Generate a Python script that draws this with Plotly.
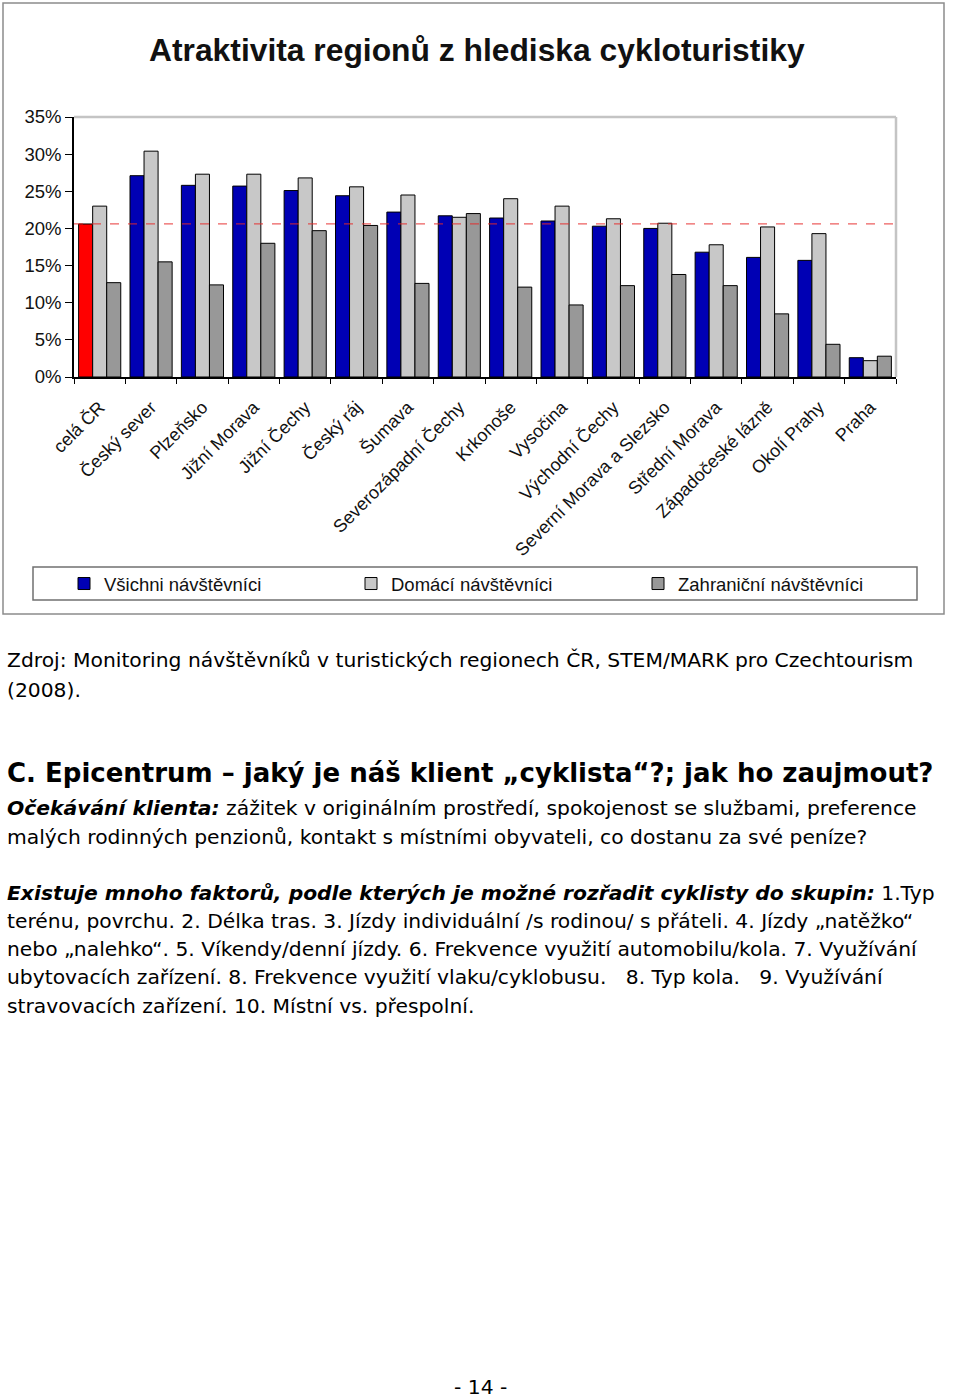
import plotly.graph_objects as go

W, H = 960, 1400

categories = ["celá ČR", "Český sever", "Plzeňsko", "Jižní Morava", "Jižní Čechy",
              "Český ráj", "Šumava", "Severozápadní Čechy", "Krkonoše", "Vysočina",
              "Východní Čechy", "Severní Morava a Slezsko", "Střední Morava",
              "Západočeské lázně", "Okolí Prahy", "Praha"]
vsichni = [20.6, 27.1, 25.8, 25.7, 25.1, 24.4, 22.2, 21.7, 21.4, 21.0, 20.3, 20.0, 16.8, 16.1, 15.7, 2.6]
domaci = [23.0, 30.4, 27.3, 27.3, 26.8, 25.6, 24.5, 21.5, 24.0, 23.0, 21.3, 20.7, 17.8, 20.2, 19.3, 2.2]
zahranicni = [12.7, 15.5, 12.4, 18.0, 19.7, 20.4, 12.6, 22.0, 12.1, 9.7, 12.3, 13.8, 12.3, 8.5, 4.4, 2.8]
y_ticks = [0, 5, 10, 15, 20, 25, 30, 35]
y_tick_labels = ["0%", "5%", "10%", "15%", "20%", "25%", "30%", "35%"]
series_names = ["Všichni návštěvníci", "Domácí návštěvníci", "Zahraniční návštěvníci"]

title = "Atraktivita regionů z hlediska cykloturistiky"

BLUE = "#0000B4"
LIGHT = "#C8C8C8"
DARK = "#989898"
RED = "#FF0000"


def px(x):
    return x / W


def py(y):
    return 1 - y / H


ARIAL = "Liberation Sans, Arial, sans-serif"
BODY = "DejaVu Sans, sans-serif"

fig = go.Figure()
blue_vals = [None] + vsichni[1:]
red_vals = [vsichni[0]] + [None] * (len(vsichni) - 1)
line = dict(color="#000000", width=1)
fig.add_trace(go.Bar(x=categories, y=blue_vals, name=series_names[0], offsetgroup="a",
                     marker=dict(color=BLUE, line=line)))
fig.add_trace(go.Bar(x=categories, y=red_vals, name="celá ČR", offsetgroup="a", showlegend=False,
                     marker=dict(color=RED, line=line)))
fig.add_trace(go.Bar(x=categories, y=domaci, name=series_names[1], offsetgroup="b",
                     marker=dict(color=LIGHT, line=line)))
fig.add_trace(go.Bar(x=categories, y=zahranicni, name=series_names[2], offsetgroup="c",
                     marker=dict(color=DARK, line=line)))

x0, x1 = px(74), px(896)
y0, y1 = py(377), py(117)

fig.update_layout(
    width=W, height=H,
    margin=dict(l=0, r=0, t=0, b=0, autoexpand=False),
    paper_bgcolor="white", plot_bgcolor="white",
    barmode="group", bargap=0.18, bargroupgap=0,
    showlegend=True,
    legend=dict(orientation="h", x=px(64), y=py(584), xanchor="left", yanchor="middle",
                entrywidth=242, entrywidthmode="pixels",
                font=dict(family=ARIAL, size=18.5, color="#111111"),
                bgcolor="rgba(0,0,0,0)", itemclick=False, traceorder="normal"),
    xaxis=dict(domain=[x0, x1], type="category", tickangle=-45, automargin=False,
               showline=True, linecolor="#000000", linewidth=1.5,
               ticks="outside", tickson="boundaries", ticklen=5, tickcolor="#000000",
               ticklabelstandoff=11,
               tickfont=dict(family=ARIAL, size=18, color="#111111"),
               showgrid=False, fixedrange=True),
    yaxis=dict(domain=[y0, y1], range=[0, 35], tickmode="array", tickvals=y_ticks,
               ticktext=y_tick_labels, automargin=False,
               showline=True, linecolor="#000000", linewidth=1.5,
               ticks="outside", ticklen=7, tickcolor="#000000",
               tickfont=dict(family=ARIAL, size=18.5, color="#111111"),
               showgrid=False, zeroline=False, fixedrange=True),
)

shapes = [
    # outer chart frame
    dict(type="rect", xref="paper", yref="paper", x0=px(3), x1=px(944), y0=py(614), y1=py(3),
         line=dict(color="#8C8C8C", width=1.5)),
    # plot frame top & right
    dict(type="line", xref="paper", yref="paper", x0=x0, x1=x1, y0=y1, y1=y1,
         line=dict(color="#C4C4C4", width=2.5)),
    dict(type="line", xref="paper", yref="paper", x0=x1, x1=x1, y0=y0, y1=y1,
         line=dict(color="#C4C4C4", width=2.5)),
    # reference line at national average
    dict(type="line", xref="paper", yref="y", x0=x0, x1=x1, y0=vsichni[0], y1=vsichni[0],
         line=dict(color="rgba(230,40,40,0.75)", width=1.2, dash="dash"), layer="above"),
    # legend box
    dict(type="rect", xref="paper", yref="paper", x0=px(33), x1=px(917), y0=py(600), y1=py(567),
         line=dict(color="#707070", width=1.5)),
]
fig.update_layout(shapes=shapes)

anns = []
anns.append(dict(text="<b>" + title + "</b>", x=px(477), y=py(50), xref="paper", yref="paper",
                 showarrow=False, xanchor="center", yanchor="middle",
                 font=dict(family=ARIAL, size=31.8, color="#111111")))

BS = 20.3
body_lines = [
    (660, "Zdroj: Monitoring návštěvníků v turistických regionech ČR, STEM/MARK pro Czechtourism"),
    (690, "(2008)."),
    (808, "<b><i>Očekávání klienta:</i></b> zážitek v originálním prostředí, spokojenost se službami, preference"),
    (837, "malých rodinných penzionů, kontakt s místními obyvateli, co dostanu za své peníze?"),
    (893, "<b><i>Existuje mnoho faktorů, podle kterých je možné rozřadit cyklisty do skupin:</i></b> 1.Typ"),
    (921, "terénu, povrchu. 2. Délka tras. 3. Jízdy individuální /s rodinou/ s přáteli. 4. Jízdy „natěžko“"),
    (949, "nebo „nalehko“. 5. Víkendy/denní jízdy. 6. Frekvence využití automobilu/kola. 7. Využívání"),
    (977, "ubytovacích zařízení. 8. Frekvence využití vlaku/cyklobusu.   8. Typ kola.   9. Využívání"),
    (1006, "stravovacích zařízení. 10. Místní vs. přespolní."),
]
for yy, txt in body_lines:
    anns.append(dict(text=txt, x=px(5), y=py(yy), xref="paper", yref="paper", showarrow=False,
                     xanchor="left", yanchor="middle", font=dict(family=BODY, size=BS, color="#000000")))

anns.append(dict(text="<b>C. Epicentrum – jaký je náš klient „cyklista“?; jak ho zaujmout?</b>",
                 x=px(5), y=py(773), xref="paper", yref="paper", showarrow=False,
                 xanchor="left", yanchor="middle", font=dict(family=BODY, size=26.0, color="#000000")))
anns.append(dict(text="- 14 -", x=px(480), y=py(1387), xref="paper", yref="paper", showarrow=False,
                 xanchor="center", yanchor="middle", font=dict(family=BODY, size=BS, color="#000000")))
fig.update_layout(annotations=anns)

fig.write_html("out.html", config={"displayModeBar": False},
               post_script="document.body.style.margin='0px';document.body.style.overflow='hidden';")
